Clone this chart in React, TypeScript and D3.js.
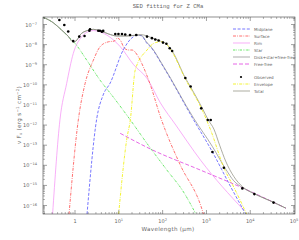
import React from 'react';
import * as d3 from 'd3';

const W = 299, H = 240;
const M = { left: 43, right: 295, top: 17, bottom: 214 };

// Observed photometry (wavelength in micron, nuFnu in erg/s/cm2)
const obsWave = [0.44, 0.57, 0.70, 0.91, 1.25, 1.65, 2.13, 2.2, 3.4, 3.7, 4.1, 4.4, 8.3, 9.8, 11.8, 14, 18, 25, 44, 57, 68, 81, 102, 122, 145, 165, 330, 435, 760, 1070, 1250, 1370, 2500, 6600, 12400, 34000];
const obsFlux = [1.67e-7, 9.5e-8, 4.5e-8, 1.5e-8, 2.5e-8, 2.7e-8, 4.9e-8, 5.8e-8, 4.9e-8, 4.9e-8, 4.4e-8, 4.8e-8, 3.4e-8, 3.4e-8, 3.4e-8, 3.2e-8, 3.0e-8, 3.0e-8, 2.5e-8, 2.1e-8, 1.8e-8, 1.6e-8, 1.26e-8, 1.1e-8, 6.6e-9, 4.8e-9, 2.2e-10, 8.3e-11, 6.8e-12, 1.8e-12, 1.8e-12, 4.6e-14, 7.6e-15, 7.1e-16, 3.7e-16, 1.4e-16];

// Model components
const midWave = [1.88, 3.15, 4.38, 6.35, 12.6, 21.4, 26.4, 32.5, 44, 52.4, 104, 510, 1370, 3600, 7900];
const midFlux = [3.7e-17, 2.24e-12, 3.1e-11, 1.23e-10, 5.4e-9, 2.45e-8, 2.9e-8, 2.8e-8, 1.15e-8, 7.9e-9, 7.8e-10, 1.8e-12, 4.6e-14, 8.3e-16, 3.7e-17];

const surfWave = [0.73, 1.19, 1.70, 2.63, 3.74, 5.8, 7.85, 9.2, 10.75, 13.3, 16.4, 20.2, 26.5, 36.3, 52.4, 89, 255, 735, 860];
const surfFlux = [3.7e-17, 1.8e-12, 1.17e-10, 1.7e-9, 7.9e-9, 1.38e-8, 1.5e-8, 2.1e-8, 1.7e-8, 6.8e-9, 5.4e-9, 5.4e-9, 3.0e-9, 7.8e-10, 1.0e-10, 2.6e-12, 1.0e-14, 1.05e-16, 3.7e-17];

const rimWave = [0.308, 0.453, 0.645, 0.915, 1.42, 2.0, 2.63, 5.3, 10.8, 21.8, 44, 89, 200, 735, 7100];
const rimFlux = [3.7e-17, 1.8e-12, 1.17e-10, 3.7e-9, 2.45e-8, 4.4e-8, 5.0e-8, 3.0e-8, 7.9e-9, 1.0e-9, 2.1e-10, 1.26e-11, 1.0e-12, 1.8e-14, 5.9e-17];

const starWave = [0.187, 0.318, 0.495, 0.84, 1.0, 1.85, 3.74, 7.45, 18.3, 47, 126, 300, 560];
const starFlux = [2.3e-7, 1.23e-7, 5.3e-8, 1.7e-8, 1.15e-8, 1.7e-9, 1.7e-10, 2.5e-11, 1.8e-12, 1.0e-13, 5.7e-15, 4.7e-16, 4.2e-17];

const diskWave = [0.187, 0.318, 0.495, 0.69, 0.914, 1.11, 1.3, 1.85, 2.63, 3.74, 5.8, 9.0, 15.3, 26, 32.5, 44, 52.4, 104, 510, 1370, 2750, 4200, 6800, 12000, 34000, 65000];
const diskFlux = [2.3e-7, 1.23e-7, 5.3e-8, 2.7e-8, 1.35e-8, 1.7e-8, 3.0e-8, 4.9e-8, 5.75e-8, 4.9e-8, 3.4e-8, 2.7e-8, 2.7e-8, 2.95e-8, 2.9e-8, 1.25e-8, 8.6e-9, 8.5e-10, 2.2e-12, 8.5e-14, 6.5e-15, 1.7e-15, 7.6e-16, 4.0e-16, 1.45e-16, 7.4e-17];

const ffWave = [10.75, 52.4, 735, 6800, 65000];
const ffFlux = [3.9e-13, 6.5e-14, 5.75e-15, 7.4e-16, 7.4e-17];

const envWave = [9.9, 15.3, 18.3, 23.7, 44, 62.6, 89, 122, 150, 330, 800, 1250, 2500, 4200, 7200, 8300];
const envFlux = [3.7e-17, 2.2e-13, 1.8e-12, 5.5e-10, 5.4e-9, 1.15e-8, 1.4e-8, 1.05e-8, 6.0e-9, 1.95e-10, 5.6e-12, 5.6e-13, 7.6e-15, 8.3e-16, 7.2e-17, 3.7e-17];

const totWave = [0.187, 0.318, 0.495, 0.69, 0.914, 1.11, 1.3, 1.85, 2.63, 3.74, 5.8, 9.0, 15.3, 26, 31, 44, 62, 89, 122, 165, 330, 435, 800, 1100, 1480, 2000, 2750, 4200, 6800, 12000, 34000, 65000];
const totFlux = [2.3e-7, 1.23e-7, 5.3e-8, 2.7e-8, 1.35e-8, 1.7e-8, 3.0e-8, 4.9e-8, 5.75e-8, 4.9e-8, 3.4e-8, 2.7e-8, 2.7e-8, 3.0e-8, 3.16e-8, 2.7e-8, 2.0e-8, 1.5e-8, 1.07e-8, 4.8e-9, 2.2e-10, 7.8e-11, 7.1e-12, 1.8e-12, 6.3e-13, 1.0e-13, 1.6e-14, 2.8e-15, 8.3e-16, 4.0e-16, 1.45e-16, 7.4e-17];

const xTickVals = [1, 10, 100, 1000, 10000, 100000];
const xTickExp = ['', '1', '2', '3', '4', '5'];
const yTickVals = [1e-7, 1e-8, 1e-9, 1e-10, 1e-11, 1e-12, 1e-13, 1e-14, 1e-15, 1e-16];
const yTickExp = ['\u22127', '\u22128', '\u22129', '\u221210', '\u221211', '\u221212', '\u221213', '\u221214', '\u221215', '\u221216'];

const legendNames = ['Midplane', 'Surface', 'Rim', 'Star', 'Disk+star+free-free', 'Free-free', '', 'Observed', 'Envelope', 'Total'];

type Style = { color: string; dash: string; width: number };
const styles: Record<string, Style> = {
  Midplane: { color: '#4a4aff', dash: '3,1.6', width: 0.75 },
  Surface: { color: '#ff4040', dash: '3,1.2,0.8,1.2', width: 0.75 },
  Rim: { color: '#f58cf5', dash: '', width: 0.7 },
  Star: { color: '#33dd33', dash: '2.4,1,0.6,1,0.6,1', width: 0.75 },
  'Disk+star+free-free': { color: '#8a8a8a', dash: '', width: 0.7 },
  'Free-free': { color: '#e040e0', dash: '4,2', width: 0.8 },
  Envelope: { color: '#f0f000', dash: '3,1.2,0.8,1.2', width: 0.8 },
  Total: { color: '#8a8a7a', dash: '', width: 0.7 },
};

export default function App() {
  const x = d3.scaleLog().domain([0.186, 1.05e5]).range([M.left, M.right]);
  const y = d3.scaleLog().domain([3.8e-17, 2.36e-7]).range([M.bottom, M.top]);
  const line = d3.line<[number, number]>().x(d => x(d[0])).y(d => y(d[1])).curve(d3.curveMonotoneX);
  const path = (w: number[], f: number[]) => line(w.map((v, i) => [v, f[i]] as [number, number])) || '';

  const series: [string, number[], number[]][] = [
    ['Rim', rimWave, rimFlux],
    ['Surface', surfWave, surfFlux],
    ['Midplane', midWave, midFlux],
    ['Star', starWave, starFlux],
    ['Free-free', ffWave, ffFlux],
    ['Disk+star+free-free', diskWave, diskFlux],
    ['Total', totWave, totFlux],
    ['Envelope', envWave, envFlux],
  ];

  const xMinor: number[] = [];
  for (let k = -1; k <= 5; k++) for (let m = 2; m <= 9; m++) {
    const v = m * Math.pow(10, k);
    if (v > 0.186 && v < 1.05e5) xMinor.push(v);
  }
  const yMinor: number[] = [];
  for (let k = -17; k <= -7; k++) for (let m = 2; m <= 9; m++) {
    const v = m * Math.pow(10, k);
    if (v > 3.8e-17 && v < 2.36e-7) yMinor.push(v);
  }
  const axisCol = '#444';
  const textCol = '#666';
  const font = 'DejaVu Sans, sans-serif';

  return (
    <svg width={W} height={H} style={{ position: 'absolute', left: 0, top: 0, background: '#fff' }}>
      <defs>
        <clipPath id="plotclip">
          <rect x={M.left} y={M.top} width={M.right - M.left} height={M.bottom - M.top} />
        </clipPath>
      </defs>
      <rect x={0} y={0} width={W} height={H} fill="#fff" />
      <text x={168} y={8} textAnchor="middle" fontSize={5.6} fontFamily="Liberation Mono, monospace" fill={textCol}>SED fitting for Z CMa</text>

      <g clipPath="url(#plotclip)">
        {series.map(([name, w, f]) => (
          <path key={name} d={path(w, f)} fill="none" stroke={styles[name].color} strokeWidth={styles[name].width} strokeDasharray={styles[name].dash || undefined} />
        ))}
        {obsWave.map((w, i) => (
          <circle key={i} cx={x(w)} cy={y(obsFlux[i])} r={1.3} fill="#000" />
        ))}
      </g>

      {/* frame */}
      <rect x={M.left} y={M.top} width={M.right - M.left} height={M.bottom - M.top} fill="none" stroke={axisCol} strokeWidth={0.6} />
      {xTickVals.map(v => (
        <g key={'xt' + v}>
          <line x1={x(v)} x2={x(v)} y1={M.bottom} y2={M.bottom - 4} stroke={axisCol} strokeWidth={0.5} />
          <line x1={x(v)} x2={x(v)} y1={M.top} y2={M.top + 4} stroke={axisCol} strokeWidth={0.5} />
        </g>
      ))}
      {xMinor.map(v => (
        <g key={'xm' + v}>
          <line x1={x(v)} x2={x(v)} y1={M.bottom} y2={M.bottom - 2} stroke={axisCol} strokeWidth={0.4} />
          <line x1={x(v)} x2={x(v)} y1={M.top} y2={M.top + 2} stroke={axisCol} strokeWidth={0.4} />
        </g>
      ))}
      {yTickVals.map(v => (
        <g key={'yt' + v}>
          <line x1={M.left} x2={M.left + 4} y1={y(v)} y2={y(v)} stroke={axisCol} strokeWidth={0.5} />
          <line x1={M.right} x2={M.right - 4} y1={y(v)} y2={y(v)} stroke={axisCol} strokeWidth={0.5} />
        </g>
      ))}
      {yMinor.map(v => (
        <g key={'ym' + v}>
          <line x1={M.left} x2={M.left + 2} y1={y(v)} y2={y(v)} stroke={axisCol} strokeWidth={0.4} />
          <line x1={M.right} x2={M.right - 2} y1={y(v)} y2={y(v)} stroke={axisCol} strokeWidth={0.4} />
        </g>
      ))}

      {xTickVals.map((v, i) => (
        <text key={'xl' + v} x={x(v)} y={223} textAnchor="middle" fontSize={5} fontFamily={font} fill={textCol}>
          {xTickExp[i] === '' ? '1' : <>10<tspan dy={-2} fontSize={3.6}>{xTickExp[i]}</tspan></>}
        </text>
      ))}
      {yTickVals.map((v, i) => (
        <text key={'yl' + v} x={37} y={y(v) + 2} textAnchor="end" fontSize={5} fontFamily={font} fill={textCol}>
          10<tspan dy={-2} fontSize={3.6}>{yTickExp[i]}</tspan>
        </text>
      ))}

      <text x={168} y={231} textAnchor="middle" fontSize={5.6} fontFamily={font} fill={textCol} letterSpacing={0.3}>Wavelength (μm)</text>
      <text transform="translate(21,115) rotate(-90)" textAnchor="middle" fontSize={5.6} fontFamily={font} fill={textCol} letterSpacing={0.3}>
        ν F<tspan dy={1.2} fontSize={4}>ν</tspan><tspan dy={-1.2}> (erg s</tspan><tspan dy={-2} fontSize={4}>−1</tspan><tspan dy={2}> cm</tspan><tspan dy={-2} fontSize={4}>−2</tspan><tspan dy={2}>)</tspan>
      </text>

      {/* legend */}
      {legendNames.map((name, i) => {
        if (!name) return null;
        const ly = 29 + i * 7 - (i >= 7 ? 1 : 0);
        const st = styles[name];
        return (
          <g key={'lg' + name}>
            {name === 'Observed' ? (
              <circle cx={241} cy={ly} r={1.1} fill="#000" />
            ) : (
              <line x1={233} x2={250} y1={ly} y2={ly} stroke={st.color} strokeWidth={st.width} strokeDasharray={st.dash || undefined} />
            )}
            <text x={254} y={ly + 1.5} fontSize={4.1} fontFamily={font} fill={textCol}>{name}</text>
          </g>
        );
      })}
    </svg>
  );
}
